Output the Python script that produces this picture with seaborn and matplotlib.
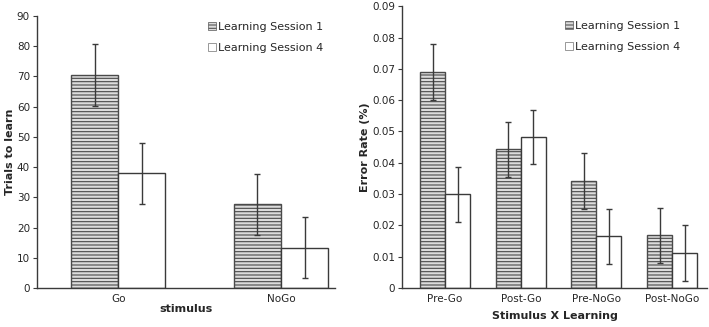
import numpy as np
import pandas as pd
import matplotlib
matplotlib.use("Agg")
import matplotlib.pyplot as plt
import seaborn as sns
from matplotlib.patches import Patch

# left panel: trials to learn
stim = ["Go", "NoGo"]
trials_s1 = [70.5, 27.7]
trials_s4 = [38.0, 13.3]
trials_err_s1 = [10.2, 10.2]
trials_err_s4 = [10.1, 10.1]

# right panel: error rate
cond = ["Pre-Go", "Post-Go", "Pre-NoGo", "Post-NoGo"]
err_s1 = [0.069, 0.0443, 0.0342, 0.0168]
err_s4 = [0.030, 0.0483, 0.0165, 0.0112]
err_sem_s1 = [0.009, 0.0087, 0.0089, 0.0088]
err_sem_s4 = [0.0088, 0.0087, 0.0088, 0.0088]

sessions = ["Learning Session 1", "Learning Session 4"]

sns.set_style("white")
plt.rcParams["font.family"] = ["DejaVu Sans"]
plt.rcParams["hatch.linewidth"] = 0.8

dark = "#3a3a3a"
fill1 = "#dcdcdc"


def make_df(cats, v1, v4):
    return pd.DataFrame({
        "cat": cats + cats,
        "session": [sessions[0]] * len(cats) + [sessions[1]] * len(cats),
        "val": v1 + v4,
    })


def draw(ax, cats, v1, v4, e1, e4, width, legend_x, legend_pad):
    df = make_df(cats, v1, v4)
    sns.barplot(data=df, x="cat", y="val", hue="session", hue_order=sessions,
                order=cats, errorbar=None, width=width, legend=False,
                palette=[fill1, "white"], edgecolor=dark, linewidth=1.0, ax=ax)
    n = len(cats)
    errs = e1 + e4
    for i, p in enumerate(ax.patches[:2 * n]):
        if i < n:
            p.set_hatch("-----")
            p.set_edgecolor("#4a4a4a")
        xc = p.get_x() + p.get_width() / 2
        ax.errorbar(xc, p.get_height(), yerr=errs[i], color=dark, lw=1.0,
                    capsize=2, capthick=1.0)
    handles = [Patch(facecolor=fill1, edgecolor="#555555", hatch="-----", lw=0.5),
               Patch(facecolor="white", edgecolor="#888888", lw=0.6)]
    ax.legend(handles, sessions, loc="upper right", bbox_to_anchor=(legend_x, 1.0),
              frameon=False, fontsize=8, handlelength=0.7, handleheight=0.7,
              handletextpad=0.2, labelspacing=1.0, borderaxespad=legend_pad)
    sns.despine(ax=ax)
    for s in ["left", "bottom"]:
        ax.spines[s].set_color(dark)
        ax.spines[s].set_linewidth(1.0)
    ax.tick_params(axis="y", left=True, length=3, color=dark, labelsize=7.5, pad=2)
    ax.tick_params(axis="x", bottom=False, labelsize=7.5, pad=1)


fig = plt.figure(figsize=(7.09, 3.27), dpi=100)
ax1 = fig.add_axes([0.052, 0.119, 0.420, 0.832])
ax2 = fig.add_axes([0.567, 0.119, 0.430, 0.862])

draw(ax1, stim, trials_s1, trials_s4, trials_err_s1, trials_err_s4, 0.58, 0.98, 0.1)
ax1.set_ylim(0, 90)
ax1.set_yticks(np.arange(0, 91, 10))
ax1.set_xlim(-0.5, 1.33)
ax1.set_ylabel("Trials to learn", fontsize=8, fontweight="bold")
ax1.yaxis.set_label_coords(-0.072, 0.5)
ax1.set_xlabel("stimulus", fontsize=8, fontweight="bold", labelpad=0)

draw(ax2, cond, err_s1, err_s4, err_sem_s1, err_sem_s4, 0.66, 0.96, 0.9)
ax2.set_ylim(0, 0.09)
ax2.set_yticks(np.arange(0, 0.0901, 0.01))
ax2.set_yticklabels(["0"] + [f"{t:.2f}" for t in np.arange(0.01, 0.0901, 0.01)])
ax2.set_xlim(-0.57, 3.46)
ax2.set_ylabel("Error Rate (%)", fontsize=8, fontweight="bold")
ax2.yaxis.set_label_coords(-0.105, 0.5)
ax2.set_xlabel("Stimulus X Learning", fontsize=8, fontweight="bold", labelpad=5)

fig.savefig("out.png", dpi=100)
